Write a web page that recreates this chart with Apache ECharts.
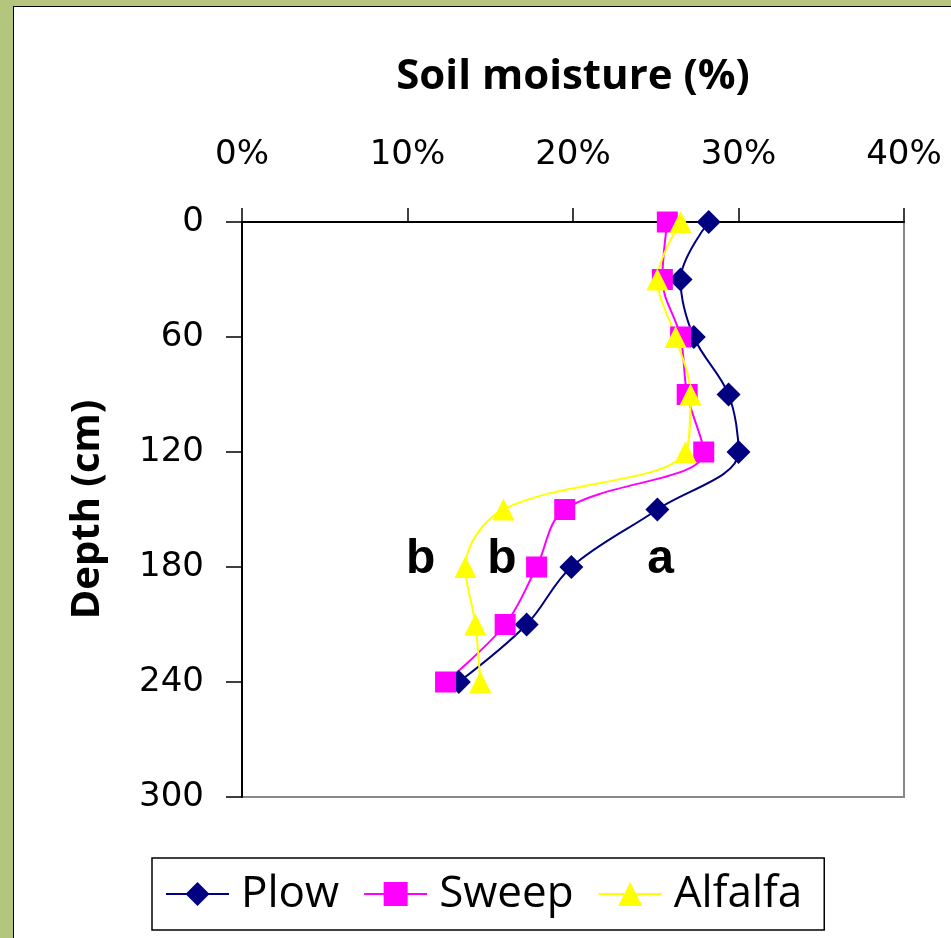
<!DOCTYPE html>
<html>
<head>
<meta charset="utf-8">
<script src="https://cdn.jsdelivr.net/npm/echarts@6/dist/echarts.min.js"></script>
<style>
html,body{margin:0;padding:0;width:951px;height:938px;overflow:hidden;background:#b4c67e;}
#frame{position:absolute;left:13px;top:6px;width:940px;height:940px;background:#fff;border-left:1.5px solid #000;border-top:1.5px solid #000;}
#chart{position:absolute;left:0;top:0;width:951px;height:938px;}
</style>
</head>
<body>
<div id="frame"></div>
<div id="chart"></div>
<script>
const depths = [0, 30, 60, 90, 120, 150, 180, 210, 240];
const plow = [28.2, 26.5, 27.3, 29.4, 30.0, 25.1, 19.9, 17.2, 13.1];
const sweep = [25.7, 25.4, 26.5, 26.9, 27.9, 19.5, 17.8, 15.9, 12.3];
const alfalfa = [26.5, 25.1, 26.2, 27.1, 26.8, 15.8, 13.5, 14.1, 14.4];
const letterX = [10.8, 15.7, 25.3];
const letterY = [176, 176, 176];
const letterText = ['b', 'b', 'a'];
const seriesNames = ['Plow', 'Sweep', 'Alfalfa'];

const chart = echarts.init(document.getElementById('chart'), null, {renderer: 'canvas'});
const tickFont = 'DejaVu Sans';
const mkSeries = (name, vals, color, symbol, size) => ({
  name: name, type: 'line', smooth: 0.35,
  data: vals.map((v, i) => [v, depths[i]]),
  symbol: symbol, symbolSize: size,
  lineStyle: {color: color, width: 2},
  itemStyle: {color: color},
  emphasis: {disabled: true}
});
chart.setOption({
  backgroundColor: 'transparent',
  animation: false,
  grid: {left: 242, right: 47, top: 222, bottom: 141, show: true, borderColor: '#888', borderWidth: 2, backgroundColor: 'transparent'},
  xAxis: {
    type: 'value', position: 'top', min: 0, max: 40, interval: 10,
    name: 'Soil moisture (%)', nameLocation: 'middle', nameGap: 124,
    nameTextStyle: {fontFamily: 'Open Sans', fontWeight: 'bold', fontSize: 42, color: '#000'},
    axisLine: {show: true, lineStyle: {color: '#000', width: 2}},
    axisTick: {show: true, inside: false, length: 14, lineStyle: {color: '#000', width: 1.5}},
    axisLabel: {formatter: '{value}%', fontFamily: tickFont, fontSize: 34, color: '#000', margin: 50},
    splitLine: {show: false}
  },
  yAxis: {
    type: 'value', inverse: true, min: 0, max: 300, interval: 60,
    name: 'Depth (cm)', nameLocation: 'middle', nameGap: 134, nameRotate: 90,
    nameTextStyle: {fontFamily: 'Open Sans', fontWeight: 'bold', fontSize: 40, color: '#000'},
    axisLine: {show: true, lineStyle: {color: '#000', width: 2}},
    axisTick: {show: true, length: 16, lineStyle: {color: '#000', width: 1.5}},
    axisLabel: {fontFamily: tickFont, fontSize: 34, color: '#000', margin: 38},
    splitLine: {show: false}
  },
  legend: {
    data: seriesNames,
    left: 152, top: 858,
    orient: 'horizontal',
    backgroundColor: '#fff',
    borderColor: '#000', borderWidth: 1.5, borderRadius: 0,
    padding: [14, 22, 14, 13],
    itemWidth: 63, itemHeight: 30, itemGap: 24,
    textStyle: {fontFamily: 'Open Sans', fontSize: 44, color: '#000', padding: [0, 0, 0, 7]},
    selectedMode: false
  },
  series: [
    mkSeries('Plow', plow, '#000080', 'diamond', 24),
    mkSeries('Sweep', sweep, '#ff00ff', 'rect', 21),
    mkSeries('Alfalfa', alfalfa, '#ffff00', 'triangle', 22),
    {
      name: 'letters', type: 'scatter', symbolSize: 0, itemStyle: {color: '#000', opacity: 1},
      data: letterX.map((x, i) => [x, letterY[i], letterText[i]]),
      label: {show: true, position: 'inside', formatter: p => p.data[2],
        fontFamily: 'Liberation Sans', fontWeight: 'bold', fontSize: 48, color: '#000', opacity: 1, textBorderWidth: 0},
      emphasis: {disabled: true}, silent: true, z: 5
    }
  ]
});
</script>
</body>
</html>
